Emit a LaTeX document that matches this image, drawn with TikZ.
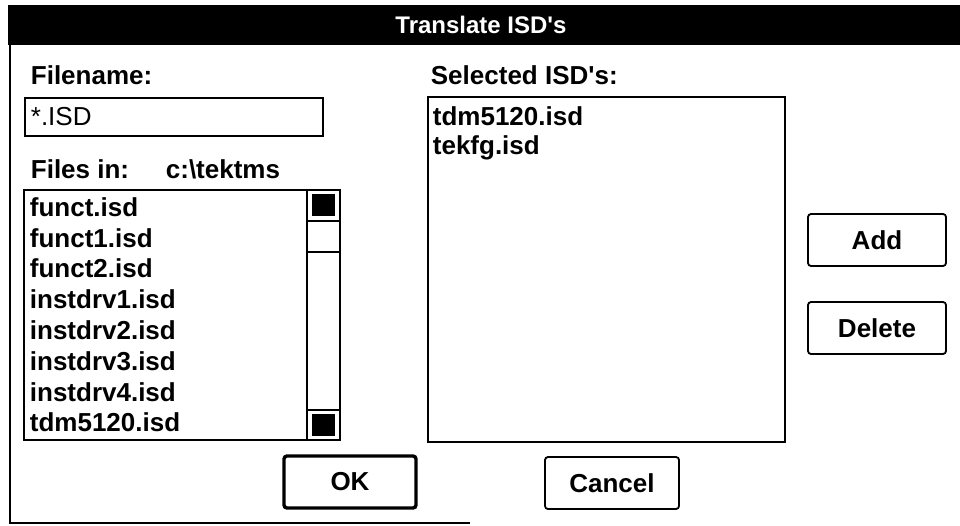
\documentclass[tikz,border=0pt]{standalone}
\usepackage{fontspec}
\setmainfont{Liberation Sans}
\usetikzlibrary{positioning}

\tikzset{
    dlgtext/.style={font=\fontsize{26}{26}\selectfont\bfseries, inner sep=0pt, anchor=west},
    dlgbutton/.style={draw, line width=1.8pt, rounded corners=3pt,
        minimum width=138pt, minimum height=52pt, inner sep=0pt,
        font=\fontsize{26}{26}\selectfont\bfseries},
    okbutton/.style={dlgbutton, line width=3.4pt, minimum width=132pt}
}

\begin{document}
\begin{tikzpicture}[x=1pt,y=-1pt]
    \useasboundingbox (0,0) rectangle (960,525);
    \begin{scope}[line width=1.8pt]
    % Title bar:
    \fill (8,5) rectangle (960,45);
    \node[font=\fontsize{24}{24}\selectfont\bfseries, text=white, inner sep=0pt]
        (title) at (481,25) {Translate ISD\textquotesingle s};
    % Window frame, left and bottom edge:
    \draw (10,45) -- (10,523) -- (470,523);

    % Filename field:
    \node[dlgtext] (fnlabel) at (30,75) {Filename:};
    \draw (25,98) rectangle (323,136);
    \node[dlgtext, font=\fontsize{26}{26}\selectfont] (filter) at (30,117) {*.ISD};

    % Directory:
    \node[dlgtext] (dirlabel) at (30,169) {Files in:};
    \node[dlgtext] (dirname) at (165,169) {c:\textbackslash tektms};

    % Files list with its scroll bar:
    \draw (24,190) rectangle (340,440);
    \draw (307,190) -- (307,440);
    \draw (307,221) -- (340,221);
    \draw (307,252) -- (340,252);
    \draw (307,410) -- (340,410);
    \fill (312,194) rectangle (335,216);
    \fill (312,414) rectangle (335,436);
    \foreach \i/\fname in {0/funct.isd, 1/funct1.isd, 2/funct2.isd,
        3/instdrv1.isd, 4/instdrv2.isd, 5/instdrv3.isd,
        6/instdrv4.isd, 7/tdm5120.isd}
    \node[dlgtext] (file\i) at (29,{207+30.8*\i}) {\fname};

    % Selected list:
    \node[dlgtext] (sellabel) at (430,75) {Selected ISD\textquotesingle s:};
    \draw (428,97) rectangle (785,442);
    \node[dlgtext] (sel0) at (432,116) {tdm5120.isd};
    \node[dlgtext] (sel1) at (432,148) {tekfg.isd};

    % Buttons:
    \node[dlgbutton] (add) at (877,240) {Add};
    \node[dlgbutton] (delete) at (877,328) {Delete};
    \node[okbutton] (ok) at (350,482) {OK};
    \node[dlgbutton, minimum width=134pt] (cancel) at (612,483) {Cancel};
    \end{scope}
\end{tikzpicture}
\end{document}
